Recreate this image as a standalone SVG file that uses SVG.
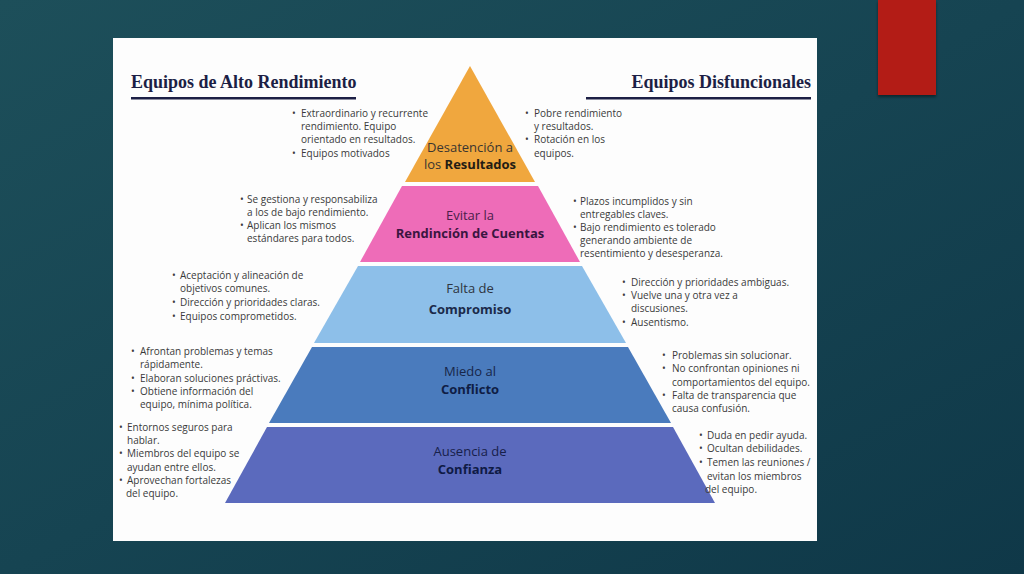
<svg xmlns="http://www.w3.org/2000/svg" width="1024" height="574" viewBox="0 0 1024 574">
<defs>
<linearGradient id="bg" x1="0" y1="0" x2="1" y2="1">
<stop offset="0" stop-color="#1d4f5a"/>
<stop offset="0.5" stop-color="#164452"/>
<stop offset="1" stop-color="#0f3848"/>
</linearGradient>
<filter id="sh" x="-20%" y="-20%" width="140%" height="140%">
<feDropShadow dx="0" dy="2" stdDeviation="1.5" flood-color="#000" flood-opacity="0.45"/>
</filter>
<style>
.ttl{font-family:"Liberation Serif","DejaVu Serif",serif;font-weight:bold;font-size:18px;fill:#1c1f45}
.b{font-family:"Open Sans","Noto Sans","Liberation Sans",sans-serif;font-size:10px;fill:#3a3a3a}
.lab{font-family:"Open Sans","Noto Sans","Liberation Sans",sans-serif;font-size:13px;text-anchor:middle}
.bold{font-weight:bold}
</style>
</defs>
<rect x="0" y="0" width="1024" height="574" fill="url(#bg)"/>
<rect x="878" y="0" width="58" height="95" fill="#b31a18" filter="url(#sh)"/>
<rect x="113" y="38" width="704" height="503" fill="#fdfdfd"/>

<g id="titles">
<text class="ttl" x="131" y="88">Equipos de Alto Rendimiento</text>
<rect x="131" y="97" width="225" height="2.5" fill="#1c1f45"/>
<text class="ttl" x="811" y="88" text-anchor="end">Equipos Disfuncionales</text>
<rect x="586" y="97" width="225" height="2.5" fill="#1c1f45"/>
</g>

<g id="connectors"/>

<g id="tier1">
<polygon points="470,66 535,182 405,182" fill="#f0a73e"/>
<text class="lab" x="470" y="152" fill="#3a3530">Desatención a</text>
<text class="lab" x="470" y="169" fill="#3a3530">los <tspan class="bold" fill="#231c14">Resultados</tspan></text>
</g>
<g id="tier2">
<polygon points="402,186 538,186 580,262 360,262" fill="#ee6cb8"/>
<text class="lab" x="470" y="220" fill="#4a1e4a">Evitar la</text>
<text class="lab bold" x="470" y="238" fill="#3a1540">Rendinción de Cuentas</text>
</g>
<g id="tier3">
<polygon points="358,266 582,266 626,343 314,343" fill="#8dbfe9"/>
<text class="lab" x="470" y="293" fill="#2e3440">Falta de</text>
<text class="lab bold" x="470" y="314" fill="#1b2a4a">Compromiso</text>
</g>
<g id="tier4">
<polygon points="312,347 628,347 671,423 269,423" fill="#4a7bbd"/>
<text class="lab" x="470" y="376" fill="#17264a">Miedo al</text>
<text class="lab bold" x="470" y="394" fill="#0f1d45">Conflicto</text>
</g>
<g id="tier5">
<polygon points="267,427 673,427 715,503 225,503" fill="#5b6abd"/>
<text class="lab" x="470" y="456" fill="#17204a">Ausencia de</text>
<text class="lab bold" x="470" y="474" fill="#0f1a45">Confianza</text>
</g>

<g id="left1" class="b">
<text class="b" x="292" y="117">•</text><text class="b" x="301" y="117">Extraordinario y recurrente</text>
<text class="b" x="301" y="130">rendimiento. Equipo</text>
<text class="b" x="301" y="143">orientado en resultados.</text>
<text class="b" x="292" y="157">•</text><text class="b" x="301" y="157">Equipos motivados</text>
</g>
<g id="right1">
<text class="b" x="525" y="117">•</text><text class="b" x="534" y="117">Pobre rendimiento</text>
<text class="b" x="534" y="130">y resultados.</text>
<text class="b" x="525" y="143">•</text><text class="b" x="534" y="143">Rotación en los</text>
<text class="b" x="534" y="157">equipos.</text>
</g>
<g id="left2">
<text class="b" x="240" y="203">•</text><text class="b" x="247" y="203">Se gestiona y responsabiliza</text>
<text class="b" x="247" y="216">a los de bajo rendimiento.</text>
<text class="b" x="240" y="229">•</text><text class="b" x="247" y="229">Aplican los mismos</text>
<text class="b" x="247" y="242">estándares para todos.</text>
</g>
<g id="right2">
<text class="b" x="573" y="205">•</text><text class="b" x="580" y="205">Plazos incumplidos y sin</text>
<text class="b" x="580" y="218">entregables claves.</text>
<text class="b" x="573" y="231">•</text><text class="b" x="580" y="231">Bajo rendimiento es tolerado</text>
<text class="b" x="580" y="244">generando ambiente de</text>
<text class="b" x="580" y="257">resentimiento y desesperanza.</text>
</g>
<g id="left3">
<text class="b" x="172" y="279">•</text><text class="b" x="180" y="279">Aceptación y alineación de</text>
<text class="b" x="180" y="292">objetivos comunes.</text>
<text class="b" x="172" y="306">•</text><text class="b" x="180" y="306">Dirección y prioridades claras.</text>
<text class="b" x="172" y="320">•</text><text class="b" x="180" y="320">Equipos comprometidos.</text>
</g>
<g id="right3">
<text class="b" x="622" y="286">•</text><text class="b" x="631" y="286">Dirección y prioridades ambiguas.</text>
<text class="b" x="622" y="299">•</text><text class="b" x="631" y="299">Vuelve una y otra vez a</text>
<text class="b" x="631" y="312">discusiones.</text>
<text class="b" x="622" y="326">•</text><text class="b" x="631" y="326">Ausentismo.</text>
</g>
<g id="left4">
<text class="b" x="131" y="355">•</text><text class="b" x="140" y="355">Afrontan problemas y temas</text>
<text class="b" x="140" y="368">rápidamente.</text>
<text class="b" x="131" y="382">•</text><text class="b" x="140" y="382">Elaboran soluciones práctivas.</text>
<text class="b" x="131" y="395">•</text><text class="b" x="140" y="395">Obtiene información del</text>
<text class="b" x="140" y="408">equipo, mínima política.</text>
</g>
<g id="right4">
<text class="b" x="662" y="359">•</text><text class="b" x="672" y="359">Problemas sin solucionar.</text>
<text class="b" x="662" y="372">•</text><text class="b" x="672" y="372">No confrontan opiniones ni</text>
<text class="b" x="672" y="386">comportamientos del equipo.</text>
<text class="b" x="662" y="399">•</text><text class="b" x="672" y="399">Falta de transparencia que</text>
<text class="b" x="672" y="412">causa confusión.</text>
</g>
<g id="left5">
<text class="b" x="119" y="431">•</text><text class="b" x="127" y="431">Entornos seguros para</text>
<text class="b" x="127" y="444">hablar.</text>
<text class="b" x="119" y="457">•</text><text class="b" x="127" y="457">Miembros del equipo se</text>
<text class="b" x="127" y="471">ayudan entre ellos.</text>
<text class="b" x="119" y="484">•</text><text class="b" x="127" y="484">Aprovechan fortalezas</text>
<text class="b" x="126" y="497">del equipo.</text>
</g>
<g id="right5">
<text class="b" x="699" y="439">•</text><text class="b" x="707" y="439">Duda en pedir ayuda.</text>
<text class="b" x="699" y="452">•</text><text class="b" x="707" y="452">Ocultan debilidades.</text>
<text class="b" x="699" y="466">•</text><text class="b" x="707" y="466">Temen las reuniones /</text>
<text class="b" x="707" y="480">evitan los miembros</text>
<text class="b" x="705" y="493">del equipo.</text>
</g>
</svg>
